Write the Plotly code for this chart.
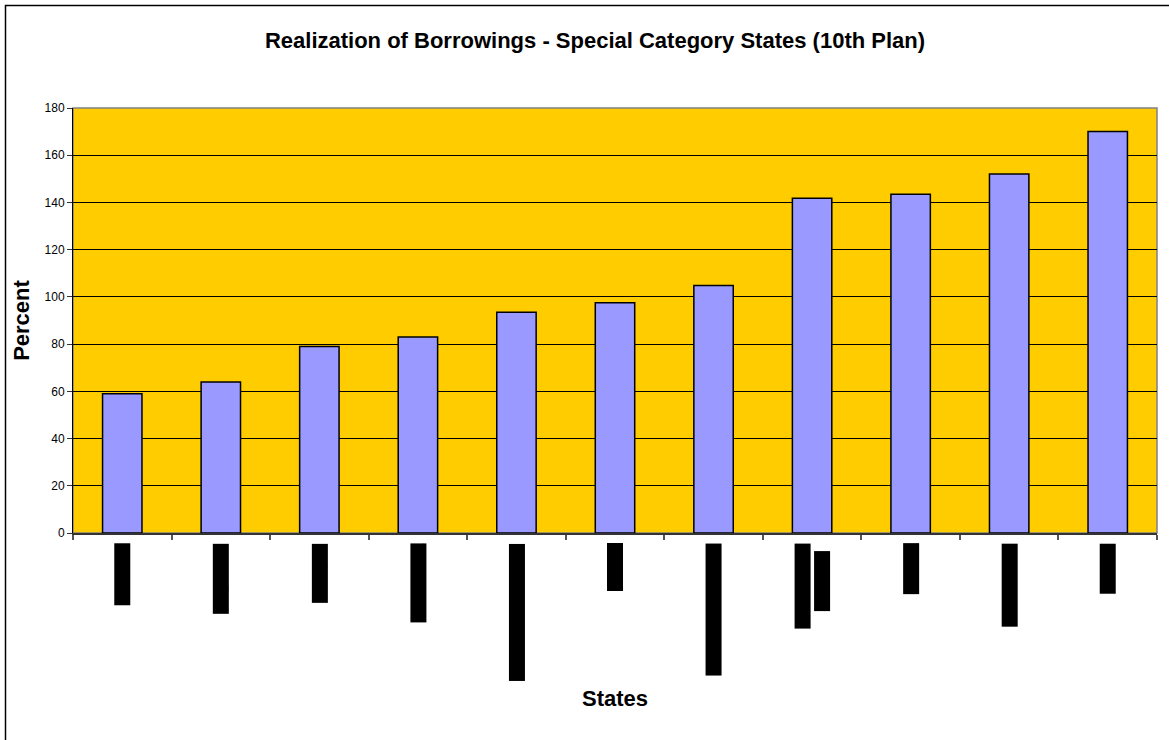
import plotly.graph_objects as go

# Special category states and realization of borrowings (% of target), 10th Plan
states = [
    "Mizoram", "Nagaland", "Manipur", "Meghalaya", "Arunachal Pradesh",
    "Sikkim", "Himachal Pradesh", "Jammu and<br>Kashmir", "Tripura",
    "Uttaranchal", "Assam",
]
realization_pct = [59, 64, 79, 83, 93.5, 97.5, 104.8, 141.8, 143.5, 152, 170]
y_ticks = [0, 20, 40, 60, 80, 100, 120, 140, 160, 180]

FONT = "Arial, Liberation Sans, sans-serif"
W, H = 1169, 740
M_L, M_R, M_T, M_B = 73, 12, 108, 207

fig = go.Figure()
fig.add_trace(go.Bar(
    x=states,
    y=realization_pct,
    marker=dict(color="#9999FF", line=dict(color="#000000", width=1.5)),
    hoverinfo="x+y",
))

# Category labels, drawn rotated as solid black blocks below the axis
label_font = 16
annotations = []
for name in states:
    lines = name.split("<br>")
    n = len(lines)
    for i, line in enumerate(lines):
        shift_down = (len(lines[0]) - len(line)) * label_font * 0.5 / 2
        annotations.append(dict(
            x=name, xref="x", y=0, yref="paper",
            text=line, showarrow=False, textangle=-90,
            xanchor="center", yanchor="top",
            xshift=(i - (n - 1) / 2) * 20, yshift=-10 - shift_down,
            font=dict(family=FONT, size=label_font, color="#000000"),
            bgcolor="#000000", borderpad=0, height=15,
        ))

pw = W - M_L - M_R
ph = H - M_T - M_B
shapes = [
    # plot-area frame
    dict(type="rect", xref="paper", yref="paper", x0=0, x1=1, y0=0, y1=1,
         line=dict(color="#808080", width=1.5), layer="below"),
    # chart frame
    dict(type="rect", xref="paper", yref="paper",
         x0=(5.5 - M_L) / pw, x1=1.2, y0=-1.0, y1=1 + (M_T - 5.5) / ph,
         line=dict(color="#000000", width=1.5)),
]

fig.update_layout(
    width=W, height=H,
    margin=dict(l=M_L, r=M_R, t=M_T, b=M_B, autoexpand=False),
    paper_bgcolor="#FFFFFF",
    plot_bgcolor="#FFCC00",
    bargap=0.6,
    showlegend=False,
    title=dict(
        text="<b>Realization of Borrowings - Special Category States (10th Plan)</b>",
        x=595 / W, xanchor="center", xref="container",
        y=1 - 40 / H, yanchor="middle", yref="container",
        font=dict(family=FONT, size=22, color="#000000"),
    ),
    xaxis=dict(
        showticklabels=False,
        ticks="outside", tickson="boundaries", ticklen=5,
        tickcolor="#555555", tickwidth=1.5,
        showline=True, linecolor="#333333", linewidth=1.5,
        showgrid=False,
        title=dict(text="<b>States</b>", standoff=157,
                   font=dict(family=FONT, size=22, color="#000000")),
    ),
    yaxis=dict(
        range=[0, 180],
        tickvals=y_ticks,
        ticks="outside", ticklen=5, tickcolor="#333333", tickwidth=1,
        tickfont=dict(family=FONT, size=12, color="#000000"),
        showline=True, linecolor="#000000", linewidth=1,
        showgrid=True, gridcolor="#000000", gridwidth=1,
        zeroline=False,
        title=dict(text="<b>Percent</b>", standoff=8,
                   font=dict(family=FONT, size=22, color="#000000")),
    ),
    annotations=annotations,
    shapes=shapes,
)

fig.write_html("out.html")
